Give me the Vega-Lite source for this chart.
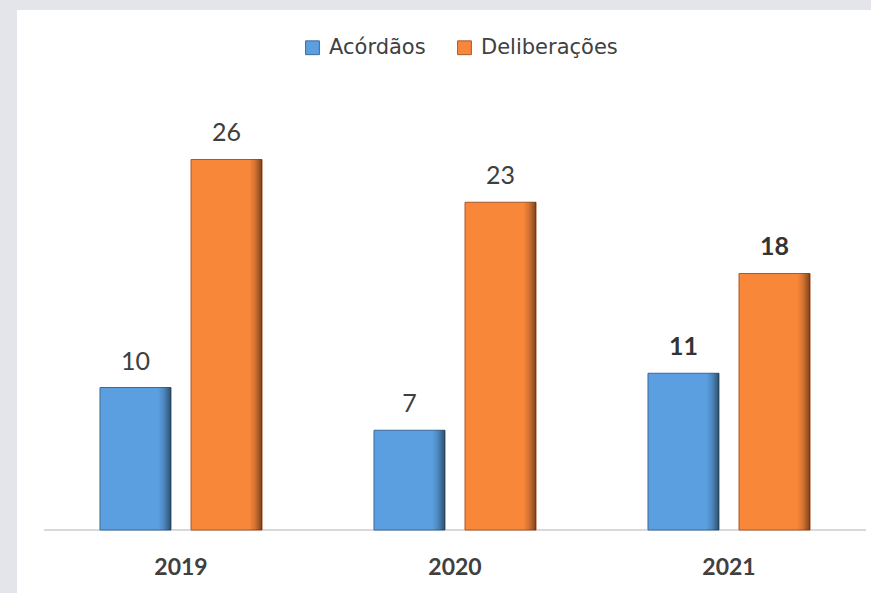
{
  "$schema": "https://vega.github.io/schema/vega-lite/v6.json",
  "width": 854,
  "height": 583,
  "autosize": {"type": "none"},
  "padding": {"left": 17, "top": 10, "right": 0, "bottom": 0},
  "background": "#e4e5ea",
  "config": {
    "view": {"fill": "white", "stroke": null},
    "font": "Lato"
  },
  "data": {
    "values": [
      {"year": "2019", "series": "Acórdãos", "value": 10},
      {"year": "2019", "series": "Deliberações", "value": 26},
      {"year": "2020", "series": "Acórdãos", "value": 7},
      {"year": "2020", "series": "Deliberações", "value": 23},
      {"year": "2021", "series": "Acórdãos", "value": 11},
      {"year": "2021", "series": "Deliberações", "value": 18}
    ]
  },
  "encoding": {
    "x": {
      "field": "year",
      "type": "nominal",
      "scale": {"paddingInner": 0, "paddingOuter": 0.0584, "align": 0.844},
      "axis": {
        "title": null,
        "orient": "bottom",
        "offset": -63,
        "domain": false,
        "ticks": false,
        "tickSize": 0,
        "grid": false,
        "labelAngle": 0,
        "labelFont": "Lato",
        "labelFontSize": 23,
        "labelFontWeight": "bold",
        "labelColor": "#404040",
        "labelBaseline": "alphabetic",
        "labelPadding": 44
      }
    },
    "y": {
      "field": "value",
      "type": "quantitative",
      "scale": {"domain": [-4.42, 36.49], "nice": false, "zero": false},
      "axis": null
    }
  },
  "layer": [
    {
      "mark": {"type": "rule", "color": "#d9d9d9", "strokeWidth": 2},
      "encoding": {
        "x": {"datum": "2019", "bandPosition": 0},
        "x2": {"datum": "2021", "bandPosition": 1},
        "y": {"datum": 0}
      }
    },
    {
      "mark": {"type": "bar", "strokeWidth": 1},
      "encoding": {
        "xOffset": {"field": "series", "type": "nominal", "scale": {"paddingInner": 0.22, "paddingOuter": 0.615}},
        "color": {
          "field": "series",
          "type": "nominal",
          "scale": {"domain": ["Acórdãos", "Deliberações"], "range": ["#5b9fe0", "#f9873a"]},
          "legend": {
            "title": null,
            "orient": "none",
            "direction": "horizontal",
            "legendX": 285,
            "legendY": 27,
            "symbolType": "square",
            "symbolSize": 190,
            "symbolStrokeWidth": 1,
            "labelFont": "DejaVu Sans",
            "labelFontSize": 21,
            "labelColor": "#404040",
            "labelOffset": 6,
            "columnPadding": 28
          }
        },
        "stroke": {
          "field": "series",
          "type": "nominal",
          "scale": {"domain": ["Acórdãos", "Deliberações"], "range": ["#3a6a98", "#a8582a"]},
          "legend": null
        }
      }
    },
    {
      "mark": {
        "type": "bar",
        "fill": {
          "gradient": "linear",
          "x1": 0, "y1": 0, "x2": 1, "y2": 0,
          "stops": [
            {"offset": 0, "color": "rgba(255,255,255,0.0)"},
            {"offset": 0.82, "color": "rgba(0,0,0,0.0)"},
            {"offset": 0.9, "color": "rgba(0,0,0,0.15)"},
            {"offset": 1, "color": "rgba(0,0,0,0.5)"}
          ]
        }
      },
      "encoding": {
        "xOffset": {"field": "series", "type": "nominal"}
      }
    },
    {
      "transform": [{"filter": "datum.year !== '2021'"}],
      "mark": {"type": "text", "baseline": "alphabetic", "dy": -18, "fontSize": 25, "color": "#404040", "font": "Lato"},
      "encoding": {
        "xOffset": {"field": "series", "type": "nominal"},
        "text": {"field": "value", "type": "quantitative"}
      }
    },
    {
      "transform": [{"filter": "datum.year === '2021'"}],
      "mark": {"type": "text", "baseline": "alphabetic", "dy": -18, "fontSize": 25, "fontWeight": "bold", "color": "#333333", "font": "Lato"},
      "encoding": {
        "xOffset": {"field": "series", "type": "nominal"},
        "text": {"field": "value", "type": "quantitative"}
      }
    }
  ]
}
